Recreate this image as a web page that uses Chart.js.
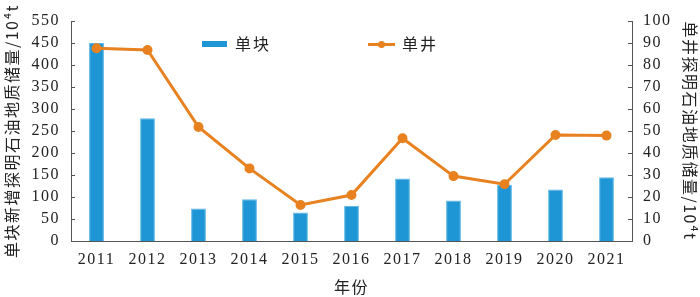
<!DOCTYPE html>
<html><head><meta charset="utf-8">
<script src="https://cdn.jsdelivr.net/npm/chart.js@4.4.0/dist/chart.umd.min.js"></script>
<style>
html,body{margin:0;padding:0;background:#fff;}
#wrap{position:relative;width:700px;height:297px;}
.lg{position:absolute;font-family:"Noto Sans CJK SC",sans-serif;font-size:16px;color:#222;line-height:16px;}
</style></head><body>
<div id="wrap"><canvas id="c" width="700" height="297"></canvas>
<div class="lg" style="left:202px;top:41px;width:25px;height:6px;background:#1e96d6;"></div>
<div class="lg" style="left:235px;top:35px;letter-spacing:2px;">单块</div>
<div class="lg" style="left:368px;top:43px;width:27px;height:3px;background:#e8811f;"></div>
<div class="lg" style="left:378px;top:41px;width:7px;height:7px;border-radius:50%;background:#e8811f;"></div>
<div class="lg" style="left:402px;top:35px;letter-spacing:2px;">单井</div>
</div>
<script>
const years = ['2011','2012','2013','2014','2015','2016','2017','2018','2019','2020','2021'];
const blockReserves = [450, 279, 74, 95, 65, 80, 142, 92, 128, 117, 145];
const wellReserves = [87.6, 86.8, 51.8, 33, 16.4, 20.9, 46.7, 29.5, 25.8, 48.2, 47.9];
const leftTickLabels = ['0','50','100','150','200','250','300','350','400','450','550'];
const leftTitle = '单块新增探明石油地质储量/10⁴t';
const rightTitle = '单井探明石油地质储量/10⁴t';
const xTitle = '年份';

const axisColor = '#555';
const numFont = {family:'"Liberation Serif", serif', size:16};
const cjkFont = {family:'"Noto Sans CJK SC", sans-serif', size:16};

const spacing = {
  id:'spacing',
  beforeLayout(chart){ chart.ctx.letterSpacing = '1.5px'; },
  beforeDraw(chart){ chart.ctx.letterSpacing = '1.5px'; }
};

const inwardTicks = {
  id:'inwardTicks',
  afterDatasetsDraw(chart){
    const ctx = chart.ctx, a = chart.chartArea;
    ctx.save();
    ctx.strokeStyle = axisColor; ctx.lineWidth = 1;
    const yl = chart.scales.y, yr = chart.scales.y2;
    yl.ticks.forEach((t,i)=>{const p=Math.round(yl.getPixelForTick(i))+0.5;ctx.beginPath();ctx.moveTo(a.left,p);ctx.lineTo(a.left+4,p);ctx.stroke();});
    yr.ticks.forEach((t,i)=>{const p=Math.round(yr.getPixelForTick(i))+0.5;ctx.beginPath();ctx.moveTo(a.right,p);ctx.lineTo(a.right-4,p);ctx.stroke();});
    ctx.restore();
  }
};

new Chart(document.getElementById('c'), {
  data:{
    labels: years,
    datasets:[
      {type:'line', label:'单井', data: wellReserves, yAxisID:'y2', borderColor:'#e8811f', backgroundColor:'#e8811f',
       borderWidth:3, pointRadius:3.5, pointHoverRadius:3.5, pointStyle:'circle', tension:0, order:0},
      {type:'bar', label:'单块', data: blockReserves, yAxisID:'y', backgroundColor:'#1e96d6', borderColor:'#5cb6e6', borderWidth:{left:1,right:1,top:1,bottom:0},
       categoryPercentage:1, barPercentage:0.29, order:1}
    ]
  },
  options:{
    responsive:false, animation:false, devicePixelRatio:1,
    layout:{padding:{top:21,left:0,right:0,bottom:0}},
    plugins:{legend:{display:false}, tooltip:{enabled:false}},
    scales:{
      x:{offset:true, grid:{display:false, drawTicks:false}, border:{color:axisColor, width:1},
         ticks:{color:'#222', font:numFont, padding:9, maxRotation:0, autoSkip:false},
         title:{display:true, text:xTitle, color:'#222', font:cjkFont, padding:{top:10,bottom:0}},
         afterFit(s){s.height=56;}},
      y:{position:'left', min:0, max:500, grid:{display:false, drawTicks:false}, border:{color:axisColor, width:1},
         ticks:{stepSize:50, autoSkip:false, color:'#222', font:numFont, padding:11, callback:(v)=>leftTickLabels[Math.round(v/50)]},
         title:{display:true, text:leftTitle, color:'#222', font:cjkFont, padding:{top:2,bottom:0}},
         afterFit(s){s.width=71;}},
      y2:{position:'right', min:0, max:100, grid:{display:false, drawTicks:false}, border:{color:axisColor, width:1},
         ticks:{stepSize:10, autoSkip:false, color:'#222', font:numFont, padding:11},
         title:{display:true, text:rightTitle, color:'#222', font:cjkFont, padding:{top:0,bottom:2}},
         afterFit(s){s.width=68;}}
    }
  },
  plugins:[spacing, inwardTicks]
});
</script>
</body></html>
